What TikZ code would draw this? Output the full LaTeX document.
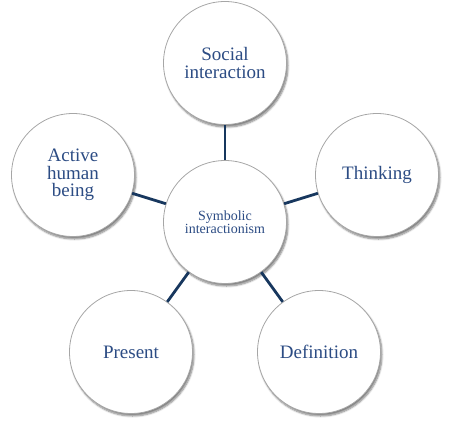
\documentclass[tikz,border=0pt]{standalone}
\usepackage{fontspec}
\setmainfont{Liberation Serif}
\usetikzlibrary{shadows.blur}
\definecolor{txtblue}{RGB}{44,76,132}
\definecolor{linkblue}{RGB}{23,55,94}
\tikzset{
  bubble/.style={circle, draw=gray!70, line width=0.8pt, fill=white,
    minimum size=123pt, inner sep=0pt, align=center, text=txtblue,
    blur shadow={shadow xshift=1.5pt, shadow yshift=-2.5pt, shadow blur steps=6, shadow opacity=50}},
  bigtxt/.style={font=\fontsize{19}{17.5}\selectfont},
  link/.style={draw=linkblue, line width=2.8pt}
}
\begin{document}
\begin{tikzpicture}[x=1pt,y=-1pt]
\useasboundingbox (0,0) rectangle (451,448);
% hub
\node[bubble, font=\fontsize{14}{12.5}\selectfont] (hub) at (225,222) {Symbolic\\interactionism};

% outer circles
\node[bubble, bigtxt] (social) at (225,63) {Social\\interaction};
\node[bubble, bigtxt] (thinking) at (377,175) {Thinking};
\node[bubble, bigtxt] (definition) at (319,352) {Definition};
\node[bubble, bigtxt] (present) at (131,352) {Present};
\node[bubble, bigtxt] (active) at (73,175) {Active\\human\\being};

% links
\foreach \n in {social,thinking,definition,present,active}
  \draw[link] (hub) -- (\n);
\end{tikzpicture}
\end{document}
